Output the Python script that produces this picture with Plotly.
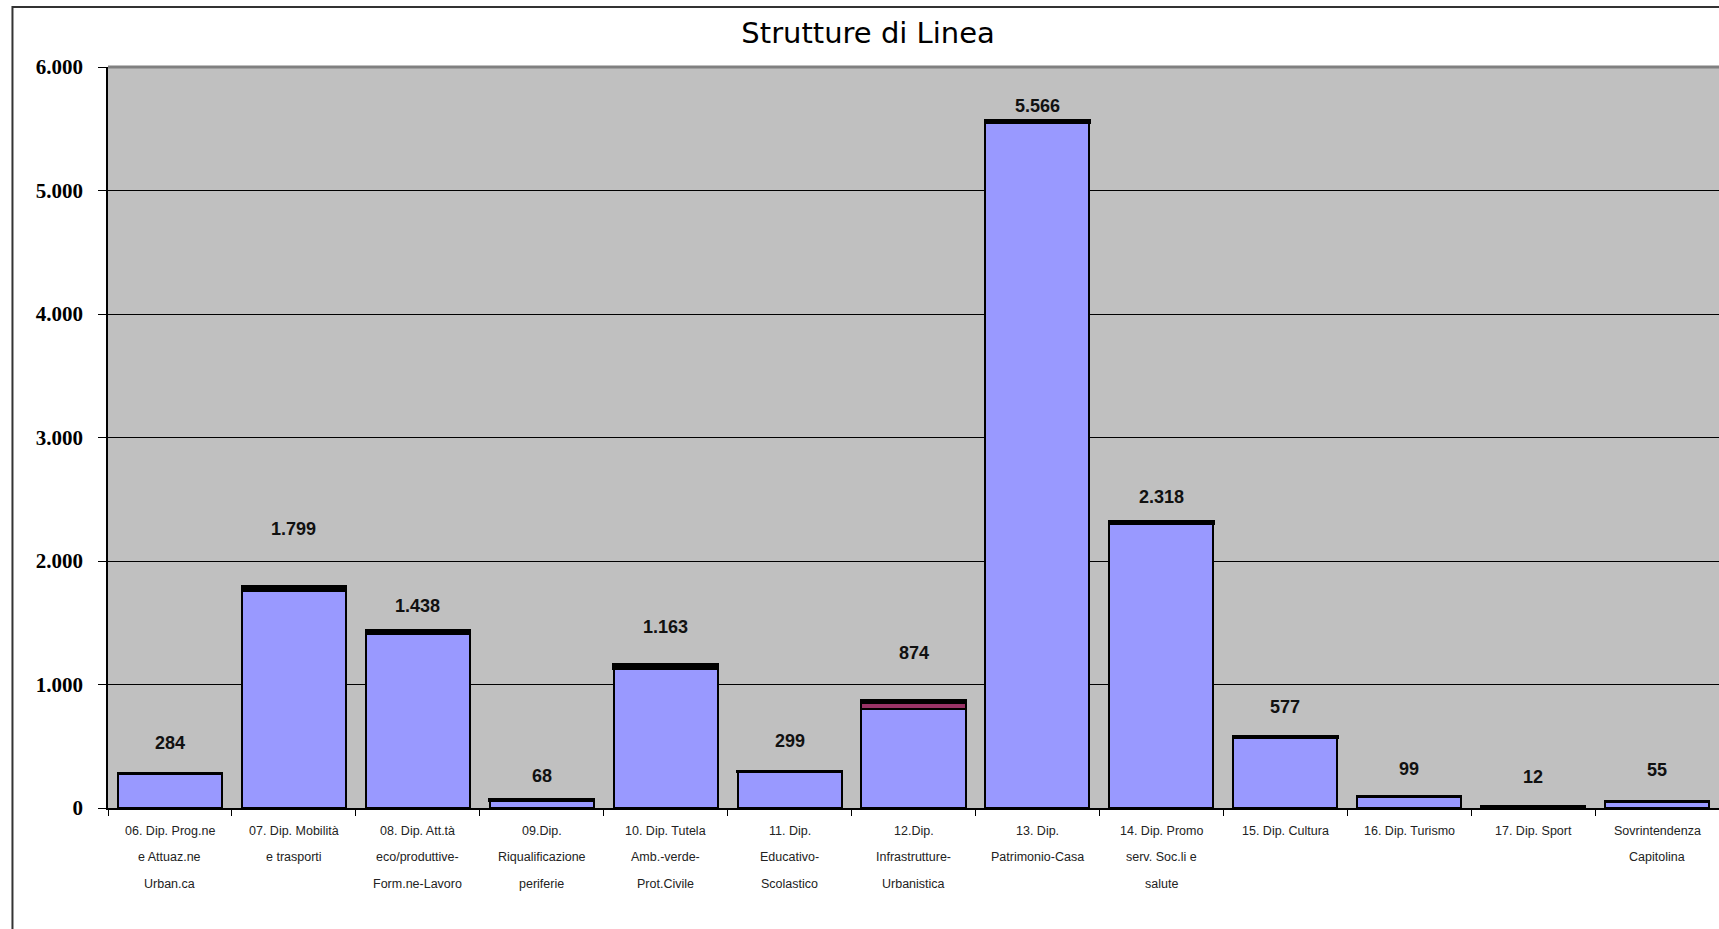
import plotly.graph_objects as go

categories = [
    "06. Dip. Prog.ne<br>e Attuaz.ne<br>Urban.ca",
    "07. Dip. Mobilità<br>e trasporti",
    "08. Dip. Att.tà<br>eco/produttive-<br>Form.ne-Lavoro",
    "09.Dip.<br>Riqualificazione<br>periferie",
    "10. Dip. Tutela<br>Amb.-verde-<br>Prot.Civile",
    "11. Dip.<br>Educativo-<br>Scolastico",
    "12.Dip.<br>Infrastrutture-<br>Urbanistica",
    "13. Dip.<br>Patrimonio-Casa",
    "14. Dip. Promo<br>serv. Soc.li e<br>salute",
    "15. Dip. Cultura",
    "16. Dip. Turismo",
    "17. Dip. Sport",
    "Sovrintendenza<br>Capitolina",
]
totals = [284, 1799, 1438, 68, 1163, 299, 874, 5566, 2318, 577, 99, 12, 55]
serie_principale = [278, 1762, 1415, 62, 1125, 292, 800, 5545, 2300, 568, 92, 0, 50]
serie_seconda = [0, 0, 0, 0, 0, 0, 56, 0, 0, 0, 0, 0, 0]
serie_terza = [6, 37, 23, 6, 38, 7, 18, 21, 18, 9, 7, 12, 5]
total_labels = ["284", "1.799", "1.438", "68", "1.163", "299", "874", "5.566", "2.318", "577", "99", "12", "55"]
label_shift_px = [30, 57, 24, 24, 37, 30, 47, 15, 25, 30, 27, 30, 31]

y_ticks = [0, 1000, 2000, 3000, 4000, 5000, 6000]
y_tick_labels = ["0", "1.000", "2.000", "3.000", "4.000", "5.000", "6.000"]

fig = go.Figure()
fig.add_trace(go.Bar(x=categories, y=serie_principale, marker=dict(color="#9999FF", line=dict(color="#000000", width=2)), name="A"))
fig.add_trace(go.Bar(x=categories, y=serie_seconda, marker=dict(color="#993366", line=dict(color="#000000", width=2)), name="B"))
fig.add_trace(go.Bar(x=categories, y=serie_terza, marker=dict(color="#000000", line=dict(color="#000000", width=2.5)), name="C"))

for c, t, lab, s in zip(categories, totals, total_labels, label_shift_px):
    fig.add_annotation(x=c, y=t, text=lab, showarrow=False, yshift=s, yanchor="middle",
                       font=dict(family="Liberation Sans", size=18, color="#111111", weight="bold"))

# category labels, one annotation per line (wide line spacing as in the original)
line_gap = 26.3
for c in categories:
    for i, part in enumerate(c.split("<br>")):
        fig.add_annotation(x=c, xref="x", y=0, yref="paper", text=part, showarrow=False,
                           yanchor="middle", yshift=-23 - line_gap * i,
                           font=dict(family="Liberation Sans", size=12.5, color="#222222"))

fig.update_layout(
    width=1719, height=929,
    barmode="stack", bargap=0.16,
    showlegend=False,
    paper_bgcolor="white", plot_bgcolor="#C0C0C0",
    margin=dict(l=108, r=0, t=67, b=121),
    title=dict(text="Strutture di Linea", x=0.505, xanchor="center", y=1 - 33 / 929, yanchor="middle",
               font=dict(family="DejaVu Sans", size=29, color="#000000")),
)
fig.update_yaxes(range=[0, 6000], tickvals=y_ticks, ticktext=y_tick_labels,
                 showgrid=True, gridcolor="#000000", gridwidth=1,
                 showline=True, linecolor="#000000", linewidth=1.5,
                 ticks="outside", ticklen=8, tickcolor="#000000", ticklabelstandoff=11,
                 tickfont=dict(family="Liberation Serif", size=21, color="#000000", weight="bold"),
                 zeroline=False)
fig.update_xaxes(showline=True, linecolor="#000000", linewidth=2,
                 ticks="outside", tickson="boundaries", ticklen=6, tickcolor="#000000",
                 showticklabels=False, range=[-0.5, 12.5])

# top border of the plot area
fig.add_shape(type="line", xref="paper", yref="paper", x0=0, x1=1, y0=1, y1=1,
              line=dict(color="#808080", width=3))
# outer chart frame
fig.add_shape(type="rect", xref="paper", yref="paper", x0=-0.0593, x1=1.01, y0=-0.2, y1=1.081,
              line=dict(color="#333333", width=2), layer="below")

fig.write_html("out.html", config={"displayModeBar": False},
               post_script="document.body.style.margin='0';")
